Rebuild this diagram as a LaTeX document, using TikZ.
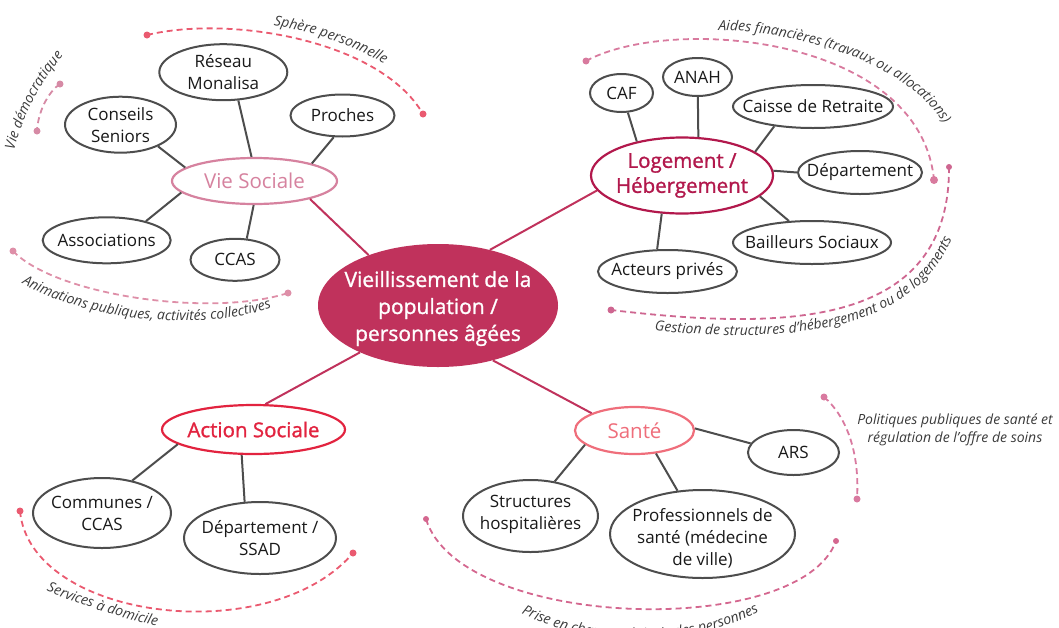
\documentclass[tikz,border=0pt]{standalone}
\usepackage{fontspec}
\setmainfont{Open Sans}
\newfontfamily\semib[FakeBold=1.2]{Open Sans}
\usetikzlibrary{shapes.geometric,decorations.text}
\definecolor{central}{HTML}{C0325C}
\definecolor{vsoc}{HTML}{D6829F}
\definecolor{loge}{HTML}{B2184C}
\definecolor{asoc}{HTML}{E2233F}
\definecolor{sante}{HTML}{EF6E7B}
\definecolor{leafline}{HTML}{4D4D4D}
\definecolor{lbl}{HTML}{3A3A3A}
\definecolor{arcred}{HTML}{EA5A70}
\definecolor{arcmauve}{HTML}{D68AA5}
\definecolor{arclight}{HTML}{DE8FA8}
\definecolor{arcaide}{HTML}{D87A9E}
\definecolor{arcgest}{HTML}{CE6690}
\definecolor{arcprise}{HTML}{D4678F}
\definecolor{arcpol}{HTML}{D97AA0}
\newcommand\lblfont{\itshape\fontsize{14}{18}\selectfont}
\tikzset{
  leaf/.style={ellipse, draw=leafline, line width=2, inner sep=0, fill=white},
  lt/.style={font=\fontsize{17}{22}\selectfont, align=center, text=black!90},
  cat/.style={ellipse, line width=2.2, inner sep=0, fill=white},
  ctxt/.style={font=\fontsize{20.5}{25}\selectfont, align=center},
  cbold/.style={font=\semib\fontsize{20.5}{25}\selectfont, align=center},
  ct/.style={font=\semib\fontsize{21}{27}\selectfont, align=center, text=white},
  link/.style={draw=leafline, line width=2},
  trunk/.style={draw=central, line width=2},
  arcline/.style={dash pattern=on 6pt off 4pt, line width=1.8},
  alongtext/.style={decorate, decoration={text along path, text align=center, text={|\color{lbl}\lblfont|#1}}},
  alongleft/.style 2 args={decorate, decoration={text along path, text align={left, left indent=#1}, text={|\color{lbl}\lblfont|#2}}},
  pl/.style={font=\lblfont, text=lbl, align=center}
}
\begin{document}
\begin{tikzpicture}[x=1pt,y=-1pt]
\useasboundingbox (0,0) rectangle (1059,627);
\clip (0,0) rectangle (1059,627);

% ---- dashed arcs with dots
\coordinate (a1s) at (147,35);  \coordinate (a1e) at (423,114);
\coordinate (a2s) at (60,84);   \coordinate (a2e) at (37,131);
\coordinate (a3s) at (13,251);  \coordinate (a3e) at (288,293);
\coordinate (a4s) at (586,61);  \coordinate (a4e) at (934,180);
\coordinate (a5s) at (949,167); \coordinate (a5e) at (611,310);
\coordinate (a6s) at (20,511);  \coordinate (a6e) at (353,553);
\coordinate (a7s) at (426,519); \coordinate (a7e) at (836,541);
\coordinate (a8s) at (824,397); \coordinate (a8e) at (857,499);

\draw[arcline, arcred] (a1s) .. controls (230,15) and (380,40) .. (a1e);
\draw[arcline, arcmauve] (a2s) .. controls (48,92) and (38,112) .. (a2e);
\draw[arcline, arclight] (a3s) .. controls (55,295) and (210,318) .. (a3e);
\draw[arcline, arcaide] (a4s) .. controls (670,15) and (920,35) .. (a4e);
\draw[arcline, arcgest] (a5s) .. controls (950,330) and (780,330) .. (a5e);
\draw[arcline, arcred] (a6s) .. controls (30,620) and (270,650) .. (a6e);
\draw[arcline, arcprise] (a7s) .. controls (460,630) and (800,640) .. (a7e);
\draw[arcline, arcpol] (a8s) .. controls (845,415) and (860,450) .. (a8e);

\fill[arcred] (a1s) circle (3.5) (a1e) circle (3.5);
\fill[arcmauve] (a2s) circle (3.5) (a2e) circle (3.5);
\fill[arclight] (a3s) circle (3.5) (a3e) circle (3.5);
\fill[arcaide] (a4s) circle (3.5) (a4e) circle (4);
\fill[arcgest] (a5s) circle (3) (a5e) circle (3.5);
\fill[arcred] (a6s) circle (3.5) (a6e) circle (3.5);
\fill[arcprise] (a7s) circle (3) (a7e) circle (3);
\fill[arcpol] (a8s) circle (3.5) (a8e) circle (3.5);

% ---- labels along arcs
\path[alongtext={Sphère personnelle}] (262,24) .. controls (300,28) and (360,45) .. (394,71);
\path[alongtext={Vie démocratique}] (12,160) .. controls (20,122) and (38,82) .. (70,48);
\path[alongtext={Animations publiques, activités collectives}] (14,279) .. controls (80,320) and (200,335) .. (280,305);
\path[alongtext={Aides financières (travaux ou allocations)}] (703,30) .. controls (800,28) and (925,68) .. (950,138);
\path[alongleft={46pt}{Gestion de structures d'hébergement ou de logements}] (609,326) .. controls (782,347) and (967,347) .. (966,160);
\path[alongtext={Services à domicile}] (36,586) .. controls (70,602) and (120,618) .. (168,629);
\path[alongtext={Prise en charge médicale des personnes}] (510,607) .. controls (580,650) and (700,650) .. (770,605);
\node[pl] (pol) at (955,430) {Politiques publiques de santé et\\régulation de l'offre de soins};

% ---- central node
\node[ellipse, fill=central, minimum width=240, minimum height=123, inner sep=0,
  label={[ct, yshift=-3pt]center:{Vieillissement de la\\population /\\personnes âgées}}] (c) at (438,305.5) {};

% ---- categories
\node[cat, draw=vsoc, minimum width=165, minimum height=46,
  label={[ctxt, text=vsoc]center:Vie Sociale}] (vs) at (254.5,181) {};
\node[cat, draw=loge, minimum width=182, minimum height=76,
  label={[cbold, text=loge]center:{Logement /\\Hébergement}}] (lg) at (682,175.5) {};
\node[cat, draw=asoc, minimum width=183, minimum height=49,
  label={[cbold, text=asoc]center:Action Sociale}] (acs) at (253.5,429.5) {};
\node[cat, draw=sante, minimum width=119, minimum height=47,
  label={[ctxt, text=sante]center:Santé}] (st) at (634.5,430.5) {};

% ---- leaves: Vie Sociale
\node[leaf, minimum width=128, minimum height=56, label={[lt]center:{Réseau\\Monalisa}}] (rm) at (223.3,72.2) {};
\node[leaf, minimum width=111, minimum height=56, label={[lt]center:{Conseils\\Seniors}}] (cs) at (120.5,124.7) {};
\node[leaf, minimum width=104, minimum height=42, label={[lt]center:Proches}] (pr) at (342.5,115.5) {};
\node[leaf, minimum width=128, minimum height=46, label={[lt]center:Associations}] (as) at (106.7,240.3) {};
\node[leaf, minimum width=89, minimum height=42, label={[lt]center:CCAS}] (cc) at (235,259.8) {};

% ---- leaves: Logement
\node[leaf, minimum width=63, minimum height=38, label={[lt]center:CAF}] (caf) at (621.5,93) {};
\node[leaf, minimum width=69, minimum height=38, label={[lt]center:ANAH}] (anah) at (697.5,77) {};
\node[leaf, minimum width=160, minimum height=43, label={[lt]center:Caisse de Retraite}] (cr) at (813,106.5) {};
\node[leaf, minimum width=124, minimum height=43, label={[lt]center:Département}] (dep) at (860,172.5) {};
\node[leaf, minimum width=158, minimum height=43, label={[lt]center:Bailleurs Sociaux}] (bs) at (812,242.5) {};
\node[leaf, minimum width=139, minimum height=43, label={[lt]center:Acteurs privés}] (ap) at (667.5,271.5) {};

% ---- leaves: Action Sociale
\node[leaf, minimum width=138, minimum height=70, label={[lt]center:{Communes /\\CCAS}}] (com) at (102,513) {};
\node[leaf, minimum width=152, minimum height=72, label={[lt]center:{Département /\\SSAD}}] (ds) at (260,538) {};

% ---- leaves: Santé
\node[leaf, minimum width=135, minimum height=72, label={[lt, yshift=2pt]center:{Structures\\hospitalières}}] (sh) at (530.5,516) {};
\node[leaf, minimum width=185, minimum height=88, label={[lt, yshift=-4pt]center:{Professionnels de\\santé (médecine\\de ville)}}] (ps) at (702.5,534) {};
\node[leaf, minimum width=91, minimum height=45, label={[lt]center:ARS}] (ars) at (793.5,452.5) {};

% ---- trunk connectors
\draw[trunk] (c.144.7) -- (vs.-18);
\draw[trunk] (c.47.9) -- (lg.-170.5);
\draw[trunk] (c.211.3) -- (acs.65);
\draw[trunk] (c.-45.8) -- (st.158.5);

% ---- leaf connectors
\draw[link] (vs.169.6) -- (cs.-30);
\draw[link] (vs.97) -- (rm.-62);
\draw[link] (vs.17) -- (pr.-112);
\draw[link] (vs.-171) -- (as.26.6);
\draw[link] (vs.-92) -- (cc.61);

\draw[link] (lg.143) -- (caf.-72);
\draw[link] (lg.67) -- (anah.-89);
\draw[link] (lg.18) -- (cr.-153);
\draw[link] (lg.3) -- (dep.180);
\draw[link] (lg.-15) -- (bs.137);
\draw[link] (lg.-118) -- (ap.115);

\draw[link] (acs.191) -- (com.47);
\draw[link] (acs.-115) -- (ds.113);

\draw[link] (st.196) -- (sh.55);
\draw[link] (st.-47) -- (ps.120);
\draw[link] (st.2) -- (ars.168);
\end{tikzpicture}
\end{document}
